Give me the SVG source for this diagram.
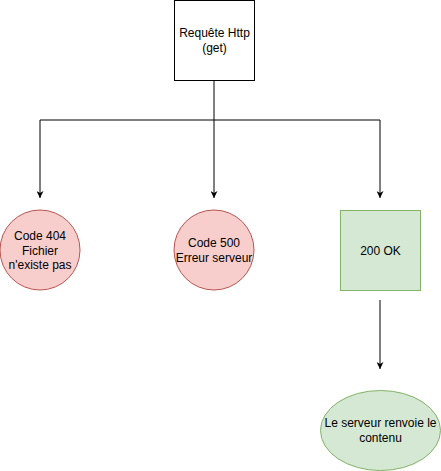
<svg xmlns="http://www.w3.org/2000/svg" width="441" height="471" viewBox="0 0 441 471">
<style>
text{font-family:"Liberation Sans",Arial,sans-serif;font-size:12px;fill:#000;text-anchor:middle}
.edge{fill:none;stroke:#000;stroke-width:1}
.red{fill:#f8cecc;stroke:#b85450;stroke-width:1}
.green{fill:#d5e8d4;stroke:#82b366;stroke-width:1}
</style>
<defs>
<marker id="arr" viewBox="0 0 10 10" refX="10" refY="5" markerWidth="7" markerHeight="7" markerUnits="userSpaceOnUse" orient="auto">
<path d="M0,0 L10,5 L0,10 L3,5 Z" fill="#000"/>
</marker>
</defs>
<rect width="441" height="471" fill="#fff"/>
<g id="connectors">
<path class="edge" d="M214,80 V120 H40 V198" marker-end="url(#arr)"/>
<path class="edge" d="M214,120 V198" marker-end="url(#arr)"/>
<path class="edge" d="M214,120 H380 V198" marker-end="url(#arr)"/>
<path class="edge" d="M380,300 V369" marker-end="url(#arr)"/>
</g>
<g id="requete">
<rect x="174.5" y="0.5" width="80" height="80" fill="#fff" stroke="#000"/>
<text x="214.5" y="37">Requête Http</text>
<text x="214.5" y="51.5">(get)</text>
</g>
<g id="code404">
<circle class="red" cx="40" cy="250" r="40"/>
<text x="40" y="240">Code 404</text>
<text x="40" y="254.5">Fichier</text>
<text x="40" y="269">n'existe pas</text>
</g>
<g id="code500">
<circle class="red" cx="214" cy="250" r="40"/>
<text x="214" y="247">Code 500</text>
<text x="214" y="261.5">Erreur serveur</text>
</g>
<g id="ok200">
<rect class="green" x="340.5" y="210.5" width="80" height="80"/>
<text x="380.5" y="254.5">200 OK</text>
</g>
<g id="contenu">
<ellipse class="green" cx="380.5" cy="430.5" rx="60" ry="40"/>
<text x="380.5" y="427">Le serveur renvoie le</text>
<text x="380.5" y="441.5">contenu</text>
</g>
</svg>
